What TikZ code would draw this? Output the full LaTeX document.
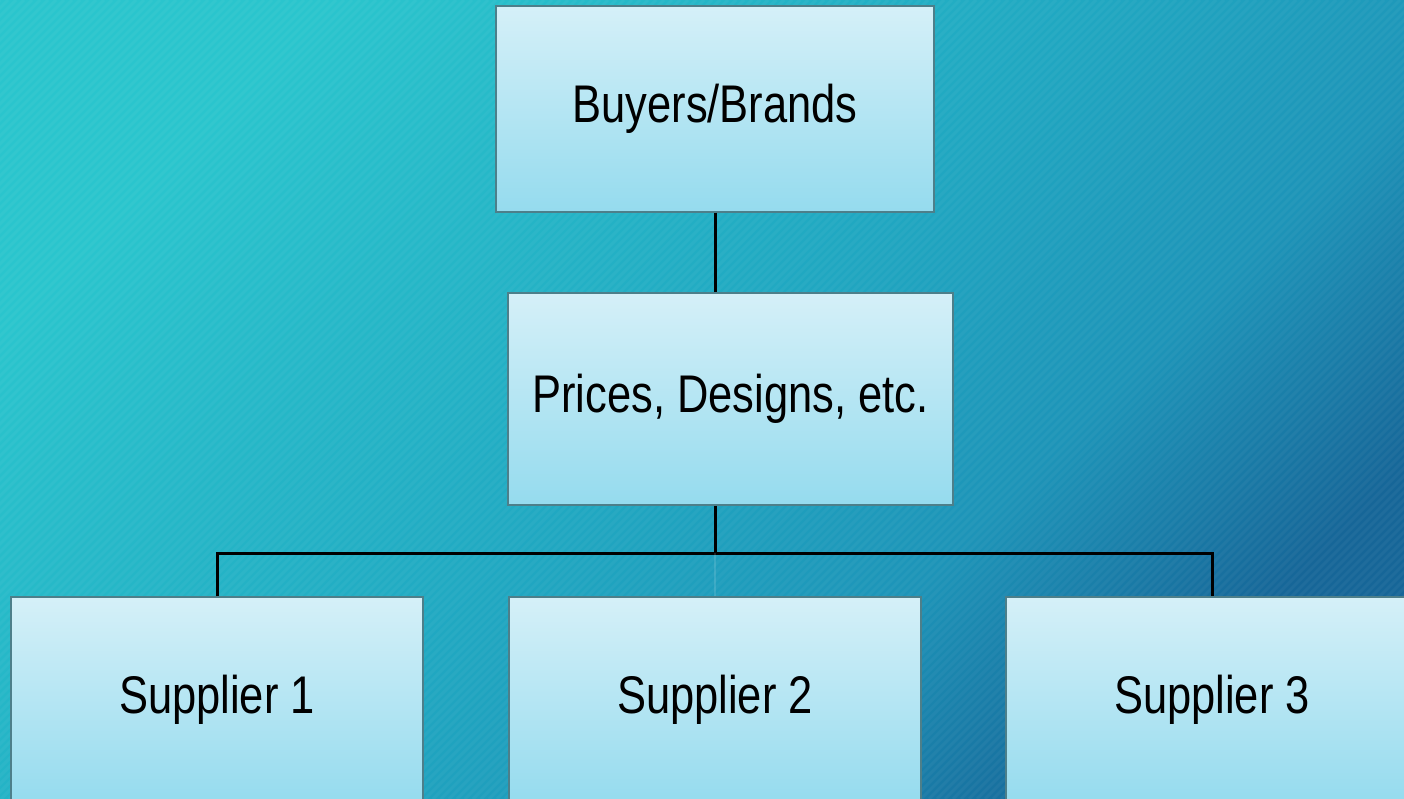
\documentclass[tikz,border=0pt]{standalone}
\usepackage{fontspec}
\setmainfont{Liberation Sans}
\newfontfamily\narrowsans[FakeStretch=0.82]{Liberation Sans}
\definecolor{bgA}{HTML}{2AC5CD}
\definecolor{bgB}{HTML}{20A7C1}
\definecolor{bgM}{HTML}{1D94B8}
\definecolor{bgC}{HTML}{166698}
\definecolor{boxtop}{HTML}{D5F0F8}
\definecolor{boxbot}{HTML}{95DBEE}
\definecolor{boxedge}{HTML}{4D7F8A}
% diagonal backdrop gradient, light teal to deep blue
\pgfdeclarehorizontalshading{backdrop}{100bp}{color(0bp)=(bgA); color(25bp)=(bgA);
  color(50bp)=(bgB); color(63bp)=(bgM); color(75bp)=(bgC); color(100bp)=(bgC)}
\begin{document}
\begin{tikzpicture}[x=1pt,y=-1pt,
  box/.style={rectangle, draw=boxedge, line width=1.5pt,
    top color=boxtop, bottom color=boxbot, inner sep=0pt,
    font=\narrowsans\fontsize{53}{60}\selectfont, text=black},
  link/.style={line width=3pt, draw=black},
  faintlink/.style={line width=2pt, draw=white, draw opacity=0.12}]
  % page and backdrop
  \useasboundingbox (0,0) rectangle (1404,799);
  \begin{scope}
    \clip (0,0) rectangle (1404,799);
    \shade[shading=backdrop, shading angle=-45] (0,0) rectangle (1404,799);
    \foreach \i in {0,8,...,2240}
      \draw[white, opacity=0.04, line width=3pt] (\i-799,799) -- (\i,0);

    % boxes
    \node[box, minimum width=438, minimum height=206] (buyers) at (715,109) {Buyers/Brands};
    \node[box, minimum width=445, minimum height=212] (prices) at (730.5,399) {Prices, Designs, etc.};
    \node[box, minimum width=412, minimum height=206] (s1) at (217,700) {Supplier 1};
    \node[box, minimum width=412, minimum height=206] (s2) at (715,700) {Supplier 2};
    \node[box, minimum width=412, minimum height=206] (s3) at (1212,700) {Supplier 3};

    % connectors
    \coordinate (bus) at (715,553);
    \draw[link] (buyers.south) -- (buyers.south |- prices.north);
    \draw[link] (buyers.south |- prices.south) -- (bus);
    \draw[link] (s1.north) -- (s1.north |- bus) -- (s3.north |- bus) -- (s3.north);
    \draw[faintlink] (bus) -- (s2.north);
  \end{scope}
\end{tikzpicture}
\end{document}
